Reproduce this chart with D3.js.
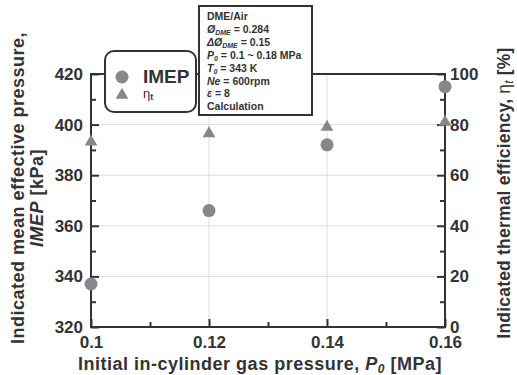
<!DOCTYPE html>
<html>
<head>
<meta charset="utf-8">
<script src="https://cdn.jsdelivr.net/npm/d3@7"></script>
<style>
  body { margin: 0; background: #fff; }
  text { font-family: "Liberation Sans", Arial, sans-serif; font-weight: bold; fill: #333; }
</style>
</head>
<body>
<svg id="chart" width="517" height="375"></svg>
<script>
// chart data
const pressures = [0.1, 0.12, 0.14, 0.16];
const imepValues = [337, 366, 392, 415];
const etaValues = [73.6, 76.8, 79.4, 81.4];
const xTicks = [0.1, 0.12, 0.14, 0.16];
const yLeftTicks = [320, 340, 360, 380, 400, 420];
const yRightTicks = [0, 20, 40, 60, 80, 100];
const noteLines = [
  [["DME/Air", false]],
  [["Ø", true], ["DME", true, "sub"], [" = 0.284", false]],
  [["ΔØ", true], ["DME", true, "sub"], [" = 0.15", false]],
  [["P", true], ["0", true, "sub"], [" = 0.1 ~ 0.18 MPa", false]],
  [["T", true], ["0", true, "sub"], [" = 343 K", false]],
  [["Ne", true], [" = 600rpm", false]],
  [["ε", true], [" = 8", false]],
  [["Calculation", false]]
];

let svg = d3.select("#chart");
let plotLeft = 91, plotRight = 445, plotTop = 74, plotBottom = 327;
let markColor = "#878787",
  axisColor = "#333";

let x = d3.scaleLinear().domain([0.1, 0.16]).range([plotLeft, plotRight]);
let yL = d3.scaleLinear().domain([320, 420]).range([plotBottom, plotTop]);
let yR = d3.scaleLinear().domain([0, 100]).range([plotBottom, plotTop]);

// gridlines
svg.append("g")
  .selectAll("line")
  .data(xTicks)
  .enter()
  .append("line")
  .attr("x1", (d) => x(d)).attr("x2", (d) => x(d))
  .attr("y1", plotTop).attr("y2", plotBottom)
  .attr("stroke", "#ddd").attr("stroke-width", 1);
svg.append("g")
  .selectAll("line")
  .data(yLeftTicks)
  .enter()
  .append("line")
  .attr("x1", plotLeft).attr("x2", plotRight)
  .attr("y1", (d) => yL(d)).attr("y2", (d) => yL(d))
  .attr("stroke", "#ddd").attr("stroke-width", 1);

// axes, ticks pointing inward
function styleAxis(g) {
  g.select(".domain").remove();
  g.selectAll(".tick line").attr("stroke", axisColor).attr("stroke-width", 2);
  g.selectAll(".tick text")
    .attr("font-size", 17)
    .attr("fill", axisColor)
    .attr("font-family", null)
    .style("font-weight", "bold");
}

let minorX = [0.11, 0.13, 0.15];
svg.append("g")
  .attr("transform", `translate(0,${plotBottom})`)
  .call(d3.axisBottom(x).tickValues(xTicks).tickFormat((d) => String(+d.toFixed(2))).tickSizeInner(-8).tickSizeOuter(0).tickPadding(9))
  .call(styleAxis);
svg.append("g")
  .attr("transform", `translate(0,${plotBottom})`)
  .call(d3.axisBottom(x).tickValues(minorX).tickFormat("").tickSizeInner(-5).tickSizeOuter(0))
  .call(styleAxis);

svg.append("g")
  .attr("transform", `translate(${plotLeft},0)`)
  .call(d3.axisLeft(yL).tickValues(yLeftTicks).tickSizeInner(-8).tickSizeOuter(0).tickPadding(8))
  .call(styleAxis);
svg.append("g")
  .attr("transform", `translate(${plotLeft},0)`)
  .call(d3.axisLeft(yL).tickValues([330, 350, 370, 390, 410]).tickFormat("").tickSizeInner(-5).tickSizeOuter(0))
  .call(styleAxis);

svg.append("g")
  .attr("transform", `translate(${plotRight},0)`)
  .call(d3.axisRight(yR).tickValues(yRightTicks).tickSizeInner(-8).tickSizeOuter(0).tickPadding(5))
  .call(styleAxis);
svg.append("g")
  .attr("transform", `translate(${plotRight},0)`)
  .call(d3.axisRight(yR).tickValues([10, 30, 50, 70, 90]).tickFormat("").tickSizeInner(-5).tickSizeOuter(0))
  .call(styleAxis);

// frame
svg.append("rect")
  .attr("x", plotLeft).attr("y", plotTop)
  .attr("width", plotRight - plotLeft).attr("height", plotBottom - plotTop)
  .attr("fill", "none").attr("stroke", axisColor).attr("stroke-width", 2);

// data marks
let tri = d3.symbol().type(d3.symbolTriangle).size(70);
svg.append("g")
  .selectAll("path")
  .data(pressures)
  .enter()
  .append("path")
  .attr("d", tri)
  .attr("transform", (d, i) => `translate(${x(d)},${yR(etaValues[i]) + 1})`)
  .attr("fill", markColor);

svg.append("g")
  .selectAll("circle")
  .data(pressures)
  .enter()
  .append("circle")
  .attr("cx", (d) => x(d))
  .attr("cy", (d, i) => yL(imepValues[i]))
  .attr("r", 6.5)
  .attr("fill", markColor);

// legend box
let legend = svg.append("g");
legend.append("rect")
  .attr("x", 105).attr("y", 51).attr("width", 91).attr("height", 61)
  .attr("rx", 9).attr("ry", 9)
  .attr("fill", "#fff").attr("stroke", axisColor).attr("stroke-width", 2);
legend.append("circle").attr("cx", 122).attr("cy", 77).attr("r", 6.5).attr("fill", markColor);
legend.append("path").attr("d", tri).attr("transform", "translate(122,95)").attr("fill", markColor);
legend.append("text").attr("x", 143).attr("y", 83).attr("font-size", 19).text("IMEP");
let etaLeg = legend.append("text").attr("x", 143).attr("y", 98).attr("font-size", 13).style("font-weight", "normal");
etaLeg.append("tspan").text("η");
etaLeg.append("tspan").attr("font-size", 9).attr("dy", 2).style("font-weight", "bold").text("t");

// condition note box
let note = svg.append("g");
note.append("rect")
  .attr("x", 199).attr("y", 6).attr("width", 113).attr("height", 109)
  .attr("fill", "#fff").attr("stroke", axisColor).attr("stroke-width", 2);
noteLines.forEach((parts, i) => {
  let t = note.append("text")
    .attr("x", 207)
    .attr("y", 20 + i * 12.9)
    .attr("font-size", 10.5);
  parts.forEach((p, j) => {
    let s = t.append("tspan").text(p[0]);
    if (p[1]) s.style("font-style", "italic");
    if (p[2] === "sub") {
      s.attr("font-size", 7).attr("dy", 2);
    } else if (j > 0 && parts[j - 1][2] === "sub") {
      s.attr("dy", -2);
    }
  });
});

// axis titles
let xt = svg.append("text")
  .attr("x", 260).attr("y", 370)
  .attr("text-anchor", "middle")
  .attr("font-size", 18)
  .attr("letter-spacing", 0.5);
xt.append("tspan").text("Initial in-cylinder gas pressure, ");
xt.append("tspan").style("font-style", "italic").text("P");
xt.append("tspan").style("font-style", "italic").attr("font-size", 12).attr("dy", 3).text("0");
xt.append("tspan").attr("dy", -3).text(" [MPa]");

svg.append("text")
  .attr("transform", "translate(24,188) rotate(-90)")
  .attr("text-anchor", "middle")
  .attr("font-size", 18)
  .attr("letter-spacing", 0.5)
  .text("Indicated mean effective pressure,");
let yt2 = svg.append("text")
  .attr("transform", "translate(43,198) rotate(-90)")
  .attr("text-anchor", "middle")
  .attr("font-size", 18)
  .attr("letter-spacing", 0.5);
yt2.append("tspan").style("font-style", "italic").text("IMEP");
yt2.append("tspan").text(" [kPa]");

let rt = svg.append("text")
  .attr("transform", "translate(510,193) rotate(-90)")
  .attr("text-anchor", "middle")
  .attr("font-size", 17.5)
  .attr("letter-spacing", 0.2);
rt.append("tspan").text("Indicated  thermal  efficiency, ");
rt.append("tspan").style("font-weight", "normal").text("η");
rt.append("tspan").attr("font-size", 12).attr("dy", 3).style("font-weight", "normal").style("font-style", "italic").text("t");
rt.append("tspan").attr("dy", -3).text(" [%]");
</script>
</body>
</html>
